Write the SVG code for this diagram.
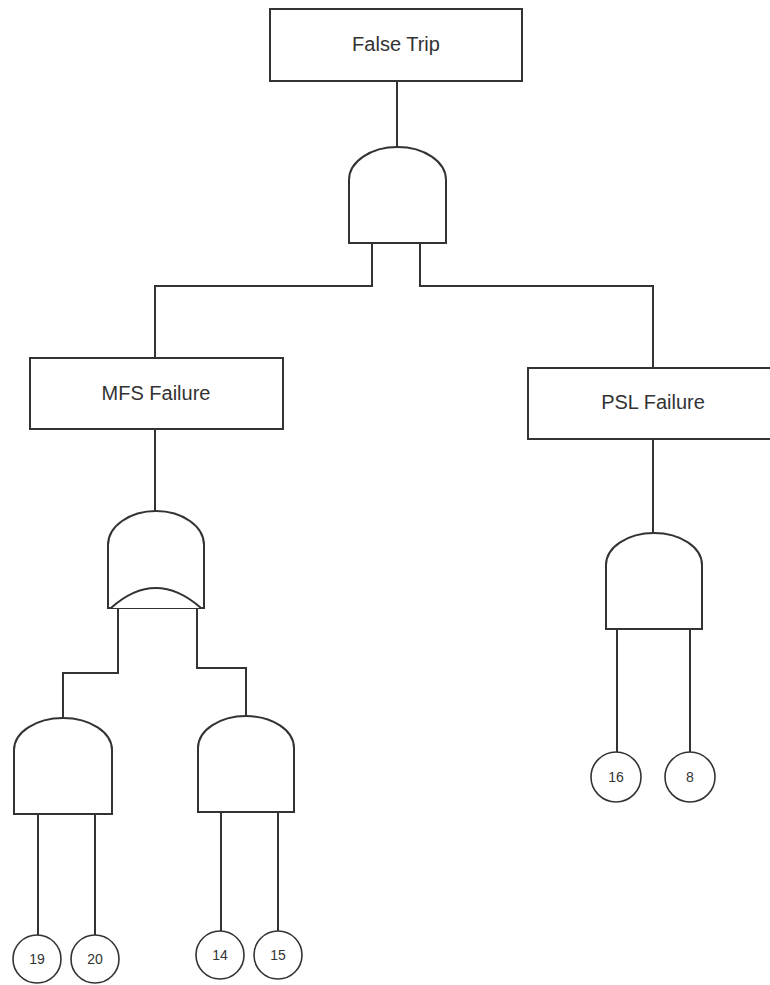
<svg xmlns="http://www.w3.org/2000/svg" width="770" height="985" viewBox="0 0 770 985">
<style>
.box{fill:#fff;stroke:#333;stroke-width:2}
.gate{fill:#fff;stroke:#333;stroke-width:2;stroke-linejoin:miter}
.ev{fill:#fff;stroke:#333;stroke-width:1.6}
.lbl{font-family:"Liberation Sans",Arial,sans-serif;font-size:20px;fill:#333;text-anchor:middle;dominant-baseline:central}
.num{font-family:"Liberation Sans",Arial,sans-serif;font-size:14px;fill:#333;text-anchor:middle;dominant-baseline:central}
.conn{fill:none;stroke:#333;stroke-width:2}
</style>
<rect width="770" height="985" fill="#fff"/>
<g id="connectors" class="conn">
<path d="M397 81V147"/>
<path d="M372 243V286H155V358"/>
<path d="M420 243V286H653V368"/>
<path d="M155 429V511"/>
<path d="M653 439V533"/>
<path d="M118 608V673H63V718"/>
<path d="M197 608V668H246V716"/>
<path d="M38 814V935"/>
<path d="M95 814V935"/>
<path d="M221 812V931"/>
<path d="M278 812V931"/>
<path d="M617 629V752"/>
<path d="M690 629V752"/>
</g>
<g id="false-trip"><rect class="box" x="270" y="9" width="252" height="72"/><text class="lbl" x="396" y="44">False Trip</text></g>
<g id="gate-top"><path class="gate" d="M349 243V180A48.5 33 0 0 1 446 180V243Z"/></g>
<g id="mfs-failure"><rect class="box" x="30" y="358" width="253" height="71"/><text class="lbl" x="156" y="393">MFS Failure</text></g>
<g id="psl-failure"><rect class="box" x="528" y="368" width="252" height="71"/><text class="lbl" x="653" y="402">PSL Failure</text></g>
<g id="gate-or"><path class="gate" d="M108 608V545A48 34 0 0 1 204 545V608Z"/><path class="gate" d="M111 608Q155.5 568 201 608" fill="none"/></g>
<g id="gate-psl"><path class="gate" d="M606 629V565A48 32 0 0 1 702 565V629Z"/></g>
<g id="gate-left"><path class="gate" d="M14 814V750A49 32 0 0 1 112 750V814Z"/></g>
<g id="gate-right"><path class="gate" d="M198 812V748A48 32 0 0 1 294 748V812Z"/></g>
<g id="ev19"><circle class="ev" cx="37" cy="959" r="24"/><text class="num" x="37" y="959">19</text></g>
<g id="ev20"><circle class="ev" cx="95" cy="959" r="24"/><text class="num" x="95" y="959">20</text></g>
<g id="ev14"><circle class="ev" cx="220" cy="955" r="24"/><text class="num" x="220" y="955">14</text></g>
<g id="ev15"><circle class="ev" cx="278" cy="955" r="24"/><text class="num" x="278" y="955">15</text></g>
<g id="ev16"><circle class="ev" cx="616" cy="777" r="25"/><text class="num" x="616" y="777">16</text></g>
<g id="ev8"><circle class="ev" cx="690" cy="777" r="25"/><text class="num" x="690" y="777">8</text></g>
</svg>
